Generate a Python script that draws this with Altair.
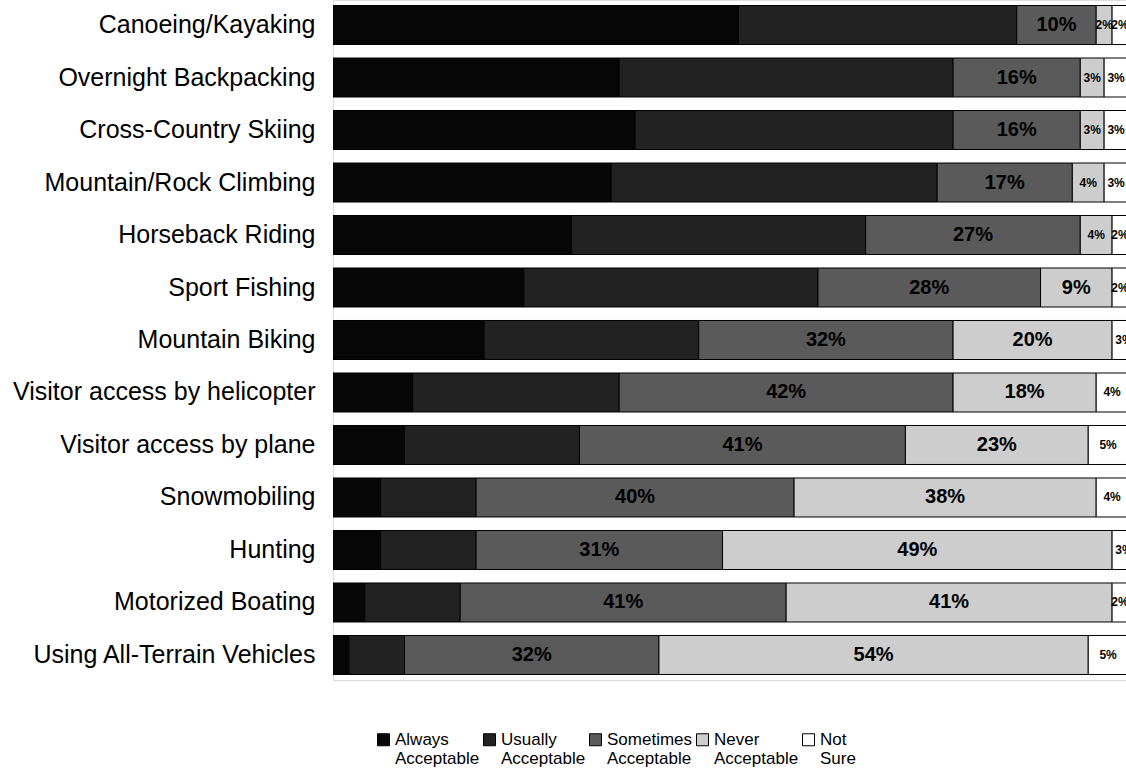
import altair as alt
import pandas as pd

activities = [
    "Canoeing/Kayaking", "Overnight Backpacking", "Cross-Country Skiing",
    "Mountain/Rock Climbing", "Horseback Riding", "Sport Fishing",
    "Mountain Biking", "Visitor access by helicopter", "Visitor access by plane",
    "Snowmobiling", "Hunting", "Motorized Boating", "Using All-Terrain Vehicles",
]
categories = ["Always Acceptable", "Usually Acceptable", "Sometimes Acceptable",
              "Never Acceptable", "Not Sure"]
always = [51, 36, 38, 35, 30, 24, 19, 10, 9, 6, 6, 4, 2]
usually = [35, 42, 40, 41, 37, 37, 27, 26, 22, 12, 12, 12, 7]
sometimes = [10, 16, 16, 17, 27, 28, 32, 42, 41, 40, 31, 41, 32]
never = [2, 3, 3, 4, 4, 9, 20, 18, 23, 38, 49, 41, 54]
not_sure = [2, 3, 3, 3, 2, 2, 3, 4, 5, 4, 3, 2, 5]
labelled = ["Sometimes Acceptable", "Never Acceptable", "Not Sure"]
colors = ["#070707", "#222222", "#5a5a5a", "#cdcdcd", "#ffffff"]

series = [always, usually, sometimes, never, not_sure]
rows = []
for ci, (cat, vals) in enumerate(zip(categories, series)):
    for a, v in zip(activities, vals):
        rows.append({"activity": a, "category": cat, "idx": ci, "value": v,
                     "label": f"{v}%", "show": cat in labelled})
df = pd.DataFrame(rows)

base = alt.Chart(df).transform_stack(
    stack="value", groupby=["activity"], as_=["x0", "x1"],
    sort=[alt.SortField("idx", order="ascending")],
).transform_calculate(mid="(datum.x0 + datum.x1) / 2")

xscale = alt.Scale(domain=[0, 99.75], nice=False, zero=True)
yenc = alt.Y("activity:N", sort=activities, title=None,
             scale=alt.Scale(paddingInner=0.257, paddingOuter=0.105),
             axis=alt.Axis(labelFontSize=25, labelFont="Liberation Sans",
                           labelColor="black", labelPadding=18, ticks=False,
                           domain=False, labelLimit=400))

bars = base.mark_bar(stroke="black", strokeWidth=1, clip=True).encode(
    x=alt.X("x0:Q", scale=xscale, axis=None),
    x2="x1:Q",
    y=yenc,
    color=alt.Color(
        "category:N",
        scale=alt.Scale(domain=categories, range=colors),
        sort=categories,
        legend=alt.Legend(
            orient="none", legendX=42, legendY=731, direction="horizontal",
            columns=5, title=None, symbolType="square", symbolSize=144,
            symbolStrokeColor="black", symbolStrokeWidth=1,
            labelFontSize=17, labelFont="Liberation Sans", labelColor="black",
            labelExpr="split(datum.label, ' ')", columnPadding=1, labelOffset=3,
            labelLimit=200,
        ),
    ),
    order=alt.Order("idx:Q"),
)

big = base.transform_filter("datum.show && datum.value >= 9").mark_text(
    fontSize=20, fontWeight="bold", font="Liberation Sans", color="black",
    clip=True, baseline="middle", align="center",
).encode(x=alt.X("mid:Q", scale=xscale), y=alt.Y("activity:N", sort=activities), text="label:N")

small = base.transform_filter("datum.show && datum.value < 9").mark_text(
    fontSize=12, fontWeight="bold", font="Liberation Sans", color="black",
    clip=True, baseline="middle", align="center",
).encode(x=alt.X("mid:Q", scale=xscale), y=alt.Y("activity:N", sort=activities), text="label:N")

chart = alt.layer(bars, big, small).properties(
    width=793, height=680,
    autosize=alt.AutoSizeParams(type="none"),
    padding={"left": 333, "top": 0, "right": 0, "bottom": 95},
).configure_view(stroke=None).configure(background="white")

chart.save("out.html", embed_options={"renderer": "svg", "actions": False})
